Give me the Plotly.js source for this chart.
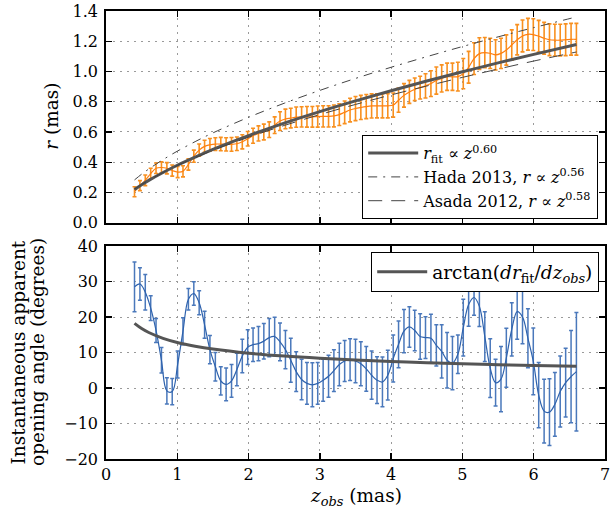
<!DOCTYPE html>
<html>
<head>
<meta charset="utf-8">
<script src="https://cdn.plot.ly/plotly-3.0.1.min.js"></script>
<style>html,body{margin:0;padding:0;background:#fff;}#chart{width:611px;height:513px;}</style>
</head>
<body>
<div id="chart"></div>
<script>
// ---- data ----
const zObs = [0.400,0.476,0.551,0.627,0.702,0.778,0.854,0.929,1.005,1.080,
  1.156,1.232,1.307,1.383,1.458,1.534,1.610,1.685,1.761,1.836,
  1.912,1.988,2.063,2.139,2.214,2.290,2.366,2.441,2.517,2.592,
  2.668,2.744,2.819,2.895,2.970,3.046,3.122,3.197,3.273,3.348,
  3.424,3.500,3.575,3.651,3.726,3.802,3.878,3.953,4.029,4.104,
  4.180,4.256,4.331,4.407,4.482,4.558,4.634,4.709,4.785,4.860,
  4.936,5.012,5.087,5.163,5.238,5.314,5.390,5.465,5.541,5.616,
  5.692,5.768,5.843,5.919,5.994,6.070,6.146,6.221,6.297,6.372,
  6.448,6.524,6.599];

const rObs = [0.205,0.245,0.28,0.325,0.36,0.365,0.36,0.345,0.335,0.34,
  0.385,0.44,0.48,0.505,0.515,0.52,0.52,0.518,0.518,0.522,
  0.535,0.555,0.575,0.59,0.60,0.615,0.645,0.672,0.686,0.692,
  0.698,0.70,0.70,0.70,0.702,0.703,0.703,0.706,0.715,0.73,
  0.745,0.755,0.762,0.768,0.772,0.773,0.773,0.773,0.778,0.81,
  0.842,0.865,0.882,0.893,0.905,0.92,0.94,0.954,0.965,0.965,
  0.966,0.986,1.028,1.085,1.118,1.125,1.12,1.11,1.12,1.142,
  1.175,1.21,1.235,1.246,1.244,1.233,1.22,1.21,1.207,1.207,
  1.21,1.213,1.213];

const rErr = [0.033,0.033,0.035,0.035,0.035,0.037,0.037,0.037,0.037,0.037,
  0.037,0.04,0.04,0.04,0.042,0.042,0.044,0.044,0.045,0.045,
  0.047,0.048,0.05,0.05,0.052,0.052,0.055,0.062,0.065,0.065,
  0.067,0.067,0.068,0.068,0.07,0.07,0.07,0.072,0.072,0.075,
  0.078,0.08,0.08,0.08,0.08,0.08,0.08,0.08,0.08,0.08,
  0.078,0.076,0.075,0.075,0.08,0.085,0.09,0.09,0.09,0.09,
  0.095,0.1,0.105,0.105,0.105,0.1,0.1,0.1,0.1,0.1,
  0.1,0.1,0.105,0.105,0.105,0.105,0.105,0.105,0.105,0.105,
  0.105,0.105,0.105];

const angle = [28.5,29.3,27.0,22.5,16.2,7.8,-0.8,-1.0,6.6,16.0,
  25.0,26.6,24.0,17.8,10.8,6.0,2.0,1.0,2.0,5.2,
  9.0,11.5,12.2,12.5,13.2,14.2,14.5,13.0,10.8,7.8,
  4.6,2.4,1.3,0.9,1.3,2.2,3.3,4.9,6.6,7.6,
  8.0,7.6,6.8,5.4,3.6,2.2,1.7,3.6,8.3,12.3,
  16.0,17.2,16.2,14.5,14.2,14.0,12.0,10.3,7.8,7.0,
  9.5,17.0,23.5,25.5,23.0,14.5,5.6,1.5,2.5,8.5,
  16.5,21.5,20.0,14.0,7.5,-2.0,-6.5,-6.8,-4.6,-1.0,
  1.5,3.2,4.6];

const angleErr = [7.0,4.6,5.0,3.5,3.4,3.6,3.7,3.7,3.8,3.8,
  3.0,3.3,3.4,3.8,4.0,4.0,4.0,4.6,4.6,4.6,
  4.7,4.9,4.7,4.8,5.0,5.4,5.4,5.3,5.4,6.2,
  5.6,5.7,5.9,6.2,5.9,5.9,5.9,5.9,6.0,5.8,
  5.9,6.1,6.2,6.3,6.8,6.6,7.0,7.0,6.6,6.6,
  6.1,5.7,5.7,6.4,5.9,6.8,5.8,7.5,7.8,7.5,
  5.4,8.0,6.1,5.0,5.7,7.0,8.3,6.6,9.2,8.3,
  7.5,7.8,7.5,8.3,9.4,9.2,9.0,9.4,9.0,10.0,
  9.7,13.0,16.7];

// fitted / published power-law curves, sampled
const zCurve   = [0.4,0.5,0.6,0.8,1.0,1.25,1.5,2.0,2.5,3.0,3.5,4.0,4.5,5.0,5.5,6.0,6.6];
const rFit     = [0.219,0.251,0.280,0.332,0.380,0.434,0.485,0.576,0.659,0.735,0.806,0.873,0.937,0.998,1.057,1.113,1.178];
const rHada    = [0.283,0.321,0.355,0.417,0.473,0.536,0.594,0.697,0.790,0.875,0.954,1.028,1.098,1.165,1.229,1.290,1.361];
const rAsada   = [0.222,0.253,0.281,0.332,0.378,0.430,0.478,0.565,0.643,0.715,0.782,0.845,0.904,0.961,1.016,1.069,1.129];
const angleFit = [18.2,16.74,15.63,14.0,12.84,11.78,10.97,9.80,8.98,8.36,7.86,7.46,7.12,6.83,6.58,6.35,6.11];

const xTicks = [0,1,2,3,4,5,6,7];
const rTicks = [0.0,0.2,0.4,0.6,0.8,1.0,1.2,1.4];
const angTicks = [-20,-10,0,10,20,30,40];

const labels = {
  fit: '<i>r</i><sub>fit</sub> \u221d <i>z</i><sup>0.60</sup>',
  hada: 'Hada 2013, <i>r</i> \u221d <i>z</i><sup>0.56</sup>',
  asada: 'Asada 2012, <i>r</i> \u221d <i>z</i><sup>0.58</sup>',
  angFit: 'arctan(<i>dr</i><sub>fit</sub>/<i>dz<sub>obs</sub></i>)',
  xTitle: '<i>z<sub>obs</sub></i> (mas)',
  yTop: '<i>r</i> (mas)',
  yBot1: 'Instantaneous apparent',
  yBot2: 'opening angle (degrees)'
};

// ---- traces ----
const FONT = 'DejaVu Serif, serif';
const FS = 16;
const traces = [
  {x: zObs, y: rObs, xaxis:'x', yaxis:'y', type:'scatter', mode:'lines', showlegend:false,
   line:{color:'#ff7f0e', width:1.2, shape:'spline', smoothing:1},
   error_y:{type:'data', array:rErr, visible:true, color:'#f8901f', thickness:1.6, width:2}},
  {x: zCurve, y: rFit, xaxis:'x', yaxis:'y', type:'scatter', mode:'lines', name:labels.fit, legend:'legend',
   line:{color:'#555555', width:3, shape:'spline'}},
  {x: zCurve, y: rHada, xaxis:'x', yaxis:'y', type:'scatter', mode:'lines', name:labels.hada, legend:'legend',
   line:{color:'#444444', width:1, shape:'spline', dash:'9px,6px,2px,6px'}},
  {x: zCurve, y: rAsada, xaxis:'x', yaxis:'y', type:'scatter', mode:'lines', name:labels.asada, legend:'legend',
   line:{color:'#444444', width:1, shape:'spline', dash:'14px,9px'}},
  {x: zObs, y: angle, xaxis:'x2', yaxis:'y2', type:'scatter', mode:'lines', showlegend:false,
   line:{color:'#2e62ad', width:1.2, shape:'spline', smoothing:1},
   error_y:{type:'data', array:angleErr, visible:true, color:'#4a78bb', thickness:1.5, width:2}},
  {x: zCurve, y: angleFit, xaxis:'x2', yaxis:'y2', type:'scatter', mode:'lines', name:labels.angFit, legend:'legend2',
   line:{color:'#555555', width:3, shape:'spline'}}
];

const axisBase = {
  showline:true, linecolor:'#000', linewidth:1.8, mirror:'ticks',
  ticks:'inside', ticklen:6, tickwidth:1.3, tickcolor:'#000',
  showgrid:true, gridcolor:'#9a9a9a', gridwidth:1, griddash:'2px,5px',
  zeroline:false, tickfont:{family:FONT, size:FS, color:'#000'}
};

// pixel helpers for paper coordinates (plot area: x 106..605, y 11..459)
const L = 106, T = 11, W = 499, H = 448;
const px = v => (v - L) / W;
const py = v => (T + H - v) / H;

const titleFont = {family:FONT, size:18.5, color:'#000'};
const layout = {
  width:611, height:513,
  margin:{l:L, r:611 - L - W, t:T, b:513 - T - H},
  paper_bgcolor:'#fff', plot_bgcolor:'#fff',
  font:{family:FONT, size:FS, color:'#000'},
  xaxis: Object.assign({}, axisBase, {domain:[0,1], anchor:'y', range:[0,7], tickvals:xTicks, showticklabels:false}),
  yaxis: Object.assign({}, axisBase, {domain:[py(222.7),1], anchor:'x', range:[0,1.4], tickvals:rTicks,
    ticktext:rTicks.map(v => v.toFixed(1)), ticklabelstandoff:3}),
  xaxis2: Object.assign({}, axisBase, {domain:[0,1], anchor:'y2', range:[0,7], tickvals:xTicks}),
  yaxis2: Object.assign({}, axisBase, {domain:[0,py(246)], anchor:'x2', range:[-20,40], tickvals:angTicks, ticklabelstandoff:3}),
  legend:{x:px(598), xanchor:'right', y:py(219), yanchor:'bottom', bgcolor:'#fff', bordercolor:'#000', borderwidth:1.2,
    font:{family:FONT, size:FS, color:'#000'}, tracegroupgap:0, itemwidth:50},
  legend2:{x:px(599), xanchor:'right', y:py(252), yanchor:'top', bgcolor:'#fff', bordercolor:'#000', borderwidth:1.2,
    font:{family:FONT, size:18.5, color:'#000'}, itemwidth:50},
  annotations:[
    {text:labels.xTitle, xref:'paper', yref:'paper', x:px(355.5), y:py(497), xanchor:'center', yanchor:'middle', showarrow:false, font:titleFont},
    {text:labels.yTop, xref:'paper', yref:'paper', x:px(52), y:py(116.7), xanchor:'center', yanchor:'middle', textangle:-90, showarrow:false, font:titleFont},
    {text:labels.yBot1, xref:'paper', yref:'paper', x:px(18), y:py(352.5), xanchor:'center', yanchor:'middle', textangle:-90, showarrow:false, font:titleFont},
    {text:labels.yBot2, xref:'paper', yref:'paper', x:px(37.5), y:py(352.5), xanchor:'center', yanchor:'middle', textangle:-90, showarrow:false, font:titleFont}
  ]
};

Plotly.newPlot('chart', traces, layout, {displayModeBar:false, staticPlot:true});
</script>
</body>
</html>
